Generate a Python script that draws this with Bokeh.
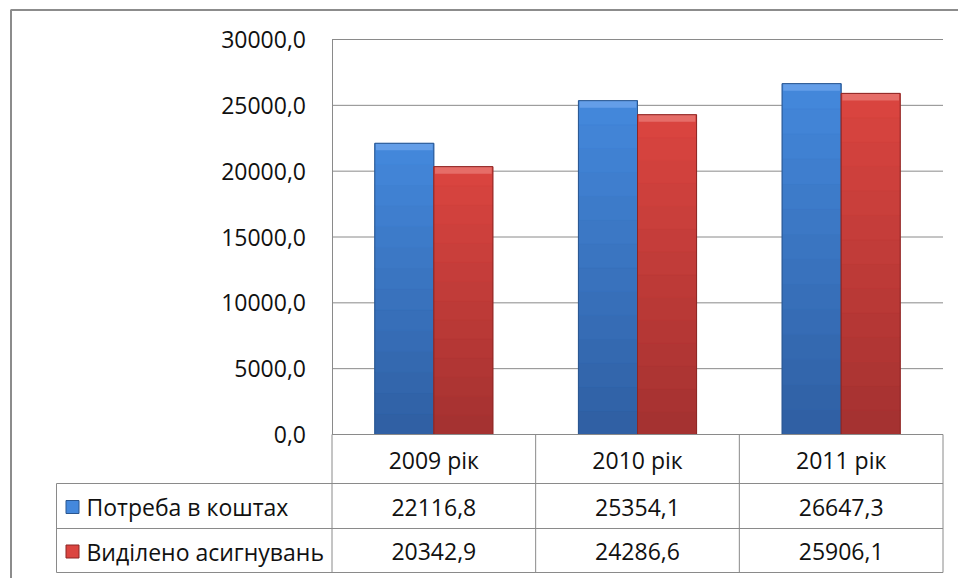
from bokeh.plotting import figure
from bokeh.models import Range1d, FixedTicker, CustomJSTickFormatter
from bokeh.core.properties import value
from bokeh.embed import file_html
from bokeh.resources import INLINE

# ---------------- data ----------------
years = ["2009 рік", "2010 рік", "2011 рік"]
series_names = ["Потреба в коштах", "Виділено асигнувань"]
need = [22116.8, 25354.1, 26647.3]
allocated = [20342.9, 24286.6, 25906.1]
y_ticks = [0, 5000, 10000, 15000, 20000, 25000, 30000]

# ---------------- style / layout ----------------
FONT = "Open Sans"
TXT = "#111111"
GRID = "#8a8a8a"
FRAME = "#8c8c8c"
BLUE_TOP, BLUE_BOT, BLUE_HI, BLUE_EDGE = "#4488dc", "#2f5fa2", "#6aa2ea", "#2a568f"
RED_TOP, RED_BOT, RED_HI, RED_EDGE = "#db4540", "#a33130", "#e87470", "#8c2624"
FS = "23px"
W = 0.29
Y_MAX = 30000
N_BANDS = 14

FIG_W, FIG_H = 958, 578
PAGE = 0                      # canvas origin in the picture
PX_PER = 611 / 3.0            # px per category
AXIS_X = 331.5                # x of value axis
ZERO_Y, TOP_Y = 434, 39       # y of 0 and of Y_MAX
LEG_LEFT_X = 56               # x of legend column border
BORDER_X, BORDER_Y = 10.5, 9.5
row_edges = [0, 49, 94, 138]  # table rows, px below the zero line

upv = Y_MAX / (ZERO_Y - TOP_Y)  # value units per px


def xd(px):
    return (px - AXIS_X) / PX_PER


def fmt(v):
    return f"{v:.1f}".replace(".", ",")


x_rng = Range1d(xd(PAGE), xd(PAGE + FIG_W))
y_rng = Range1d(-(PAGE + FIG_H - ZERO_Y) * upv, Y_MAX + (TOP_Y - PAGE) * upv)

p = figure(width=FIG_W, height=FIG_H, x_range=x_rng, y_range=y_rng,
           output_backend="svg", toolbar_location=None, x_axis_location=None,
           min_border_left=0, min_border_right=0, min_border_top=0,
           min_border_bottom=0)
p.extra_y_ranges = {"tbl": Range1d(PAGE + FIG_H - ZERO_Y, PAGE - ZERO_Y)}
p.outline_line_color = None
p.grid.visible = False

ax = p.yaxis[0]
ax.fixed_location = 0
ax.bounds = (0, Y_MAX)
ax.ticker = FixedTicker(ticks=y_ticks)
ax.formatter = CustomJSTickFormatter(code="return tick.toFixed(1).replace('.', ',');")
ax.major_label_text_font = FONT
ax.major_label_text_font_size = FS
ax.major_label_text_color = TXT
ax.major_label_standoff = 26
ax.major_tick_line_color = None
ax.major_tick_in = 0
ax.major_tick_out = 0
ax.minor_tick_line_color = None
ax.axis_line_color = GRID

ncat = len(years)
xc = [i + 0.5 for i in range(ncat)]

# horizontal gridlines of the value axis
p.segment(x0=[0] * len(y_ticks), y0=y_ticks, x1=[ncat] * len(y_ticks),
          y1=y_ticks, line_color=GRID, line_width=1)


def mix(c1, c2, t):
    a = [int(c1[i:i + 2], 16) for i in (1, 3, 5)]
    b = [int(c2[i:i + 2], 16) for i in (1, 3, 5)]
    return "#%02x%02x%02x" % tuple(round(a[k] + (b[k] - a[k]) * t) for k in range(3))


bevel = 7 * upv
for vals, off, ctop, cbot, chi, cedge in [
        (need, -W / 2, BLUE_TOP, BLUE_BOT, BLUE_HI, BLUE_EDGE),
        (allocated, W / 2, RED_TOP, RED_BOT, RED_HI, RED_EDGE)]:
    xs = [x + off for x in xc]
    # main bars
    p.vbar(x=xs, width=W, top=vals, bottom=0, fill_color=mix(ctop, cbot, 0.5),
           line_color=None)
    # vertical shading (dark at bottom, light at top)
    bx, bb, bt, bc = [], [], [], []
    for xv, v in zip(xs, vals):
        for k in range(N_BANDS):
            bx.append(xv)
            bb.append(v * k / N_BANDS)
            bt.append(v * (k + 1) / N_BANDS)
            bc.append(mix(cbot, ctop, (k + 0.5) / N_BANDS))
    p.vbar(x=bx, width=W, bottom=bb, top=bt, fill_color=bc, line_color=bc,
           line_width=0.5)
    # bevelled top and outline
    p.vbar(x=xs, width=W * 0.96, top=vals, bottom=[v - bevel for v in vals],
           fill_color=chi, line_color=None, fill_alpha=0.85)
    p.vbar(x=xs, width=W, top=vals, bottom=0, fill_color=None,
           line_color=cedge, line_width=1)

# ---------------- data table ----------------
leg_left = xd(LEG_LEFT_X)
hx0 = [0, leg_left, leg_left, leg_left]
hx1 = [ncat] * 4
p.segment(x0=hx0, y0=row_edges, x1=hx1, y1=row_edges, line_color=GRID,
          line_width=1, y_range_name="tbl")
vx = [leg_left] + list(range(ncat + 1))
vy0 = [row_edges[1]] + [0] * (ncat + 1)
vy1 = [row_edges[-1]] * len(vx)
p.segment(x0=vx, y0=vy0, x1=vx, y1=vy1, line_color=GRID, line_width=1,
          y_range_name="tbl")

row_mid = [(row_edges[i] + row_edges[i + 1]) / 2 + 1 for i in range(3)]
for r, labels in enumerate([years, [fmt(v) for v in need],
                            [fmt(v) for v in allocated]]):
    p.text(x=xc, y=[row_mid[r]] * ncat, text=labels, text_font=value(FONT),
           text_font_size=FS, text_color=TXT, text_align="center",
           text_baseline="middle", y_range_name="tbl")

sw_x = xd(LEG_LEFT_X + 16)
p.scatter(x=[sw_x, sw_x], y=row_mid[1:], marker="square", size=13,
          fill_color=[BLUE_TOP, RED_TOP], line_color=[BLUE_EDGE, RED_EDGE],
          y_range_name="tbl")
p.text(x=[xd(LEG_LEFT_X + 30)] * 2, y=row_mid[1:], text=series_names,
       text_font=value(FONT), text_font_size=FS, text_color=TXT,
       text_align="left", text_baseline="middle", y_range_name="tbl")

# outer chart-area border (left and top edges visible in the window)
bx_ = xd(BORDER_X)
by_ = BORDER_Y - ZERO_Y
p.line(x=[bx_, bx_, xd(PAGE + FIG_W)], y=[PAGE + FIG_H - ZERO_Y, by_, by_],
       line_color=FRAME, line_width=2, y_range_name="tbl")

open("out.html", "w").write(file_html(p, INLINE))
